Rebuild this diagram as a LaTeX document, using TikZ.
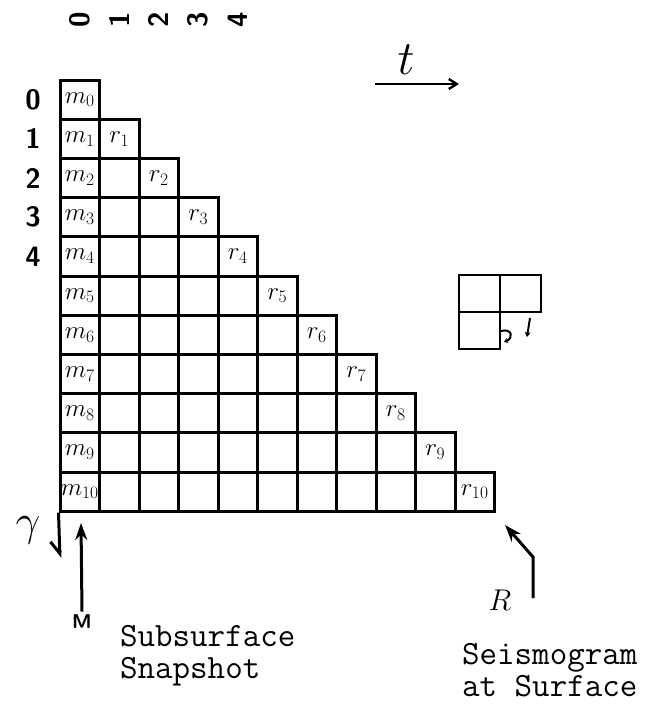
\RequirePackage{fix-cm}
\documentclass[tikz,border=0pt]{standalone}
\usepackage{fontspec}
\usetikzlibrary{arrows.meta,positioning}
\tikzset{
  cellbox/.style={draw, line width=3pt, minimum width=39.5pt, minimum height=39.2pt, inner sep=0pt},
  minicell/.style={draw, line width=2pt, minimum width=41pt, minimum height=37pt, inner sep=0pt},
  hand/.style={font=\fontsize{25}{25}\selectfont},
  idx/.style={font=\sffamily\bfseries\fontsize{28}{28}\selectfont},
  note/.style={font=\ttfamily\fontsize{34}{30}\selectfont, inner sep=0pt, anchor=base west},
  bigarrow/.style={line width=3pt, -{Stealth[length=17pt,width=12pt]}},
}
\begin{document}
\begin{tikzpicture}[x=1pt,y=-1pt]
\useasboundingbox (0,0) rectangle (653,705);
\foreach \i in {0,...,10}{
  \foreach \j in {0,...,\i}
    \node[cellbox] (c\i-\j) at ({60+39.5*(\j+0.5)},{80+39.2*(\i+0.5)}) {};
  \node[hand] (m\i) at (c\i-0) {$m_{\i}$};
}
\foreach \i in {1,...,10}
  \node[hand] (r\i) at (c\i-\i) {$r_{\i}$};
\foreach \k in {0,...,4}{
  \node[idx] (row\k) at (33,{80+39.2*(\k+0.5)}) {\k};
  \node[idx, rotate=90] (col\k) at ({60+39.5*(\k+0.5)},20) {\k};
}
\node[font=\fontsize{48}{48}\selectfont] (tlab) at (406,60) {$t$};
\coordinate (tstart) at (375,84);
\coordinate (tend) at (459,84);
\draw[line width=2.4pt, -{Straight Barb[length=8pt,width=10pt]}] (tstart) -- (tend);
\coordinate (gend) at (60,558);
\draw[line width=3pt, -{Straight Barb[right,length=12pt,width=18pt]}] (c10-0.south west) -- (gend);
\node[font=\fontsize{44}{44}\selectfont] (glab) at (28,530) {$\gamma$};
\node[font=\sffamily\bfseries\fontsize{20}{20}\selectfont] (mlab) at (82,622) {M};
\coordinate (mtip) at (81,523);
\draw[bigarrow] (mlab.north) -- (mtip);
\node[font=\fontsize{30}{30}\selectfont] (rlab) at (500,600) {$R$};
\coordinate (rtail) at (533,598);
\coordinate (rbend) at (533,557);
\coordinate (rtip) at (505,525);
\draw[bigarrow] (rtail) -- (rbend) -- (rtip);
\node[minicell] (s00) at (479,293) {};
\node[minicell] (s01) at (520,293) {};
\node[minicell] (s10) at (479,330) {};
\coordinate (hooka) at (501,331);
\coordinate (hookb) at (504,342);
\draw[line width=2pt, -{Stealth[length=4pt,width=5pt]}] (hooka) .. controls (512,328) and (514,338) .. (hookb);
\coordinate (dna) at (530,318);
\coordinate (dnb) at (527,337);
\draw[line width=2pt, -{Stealth[length=5pt,width=6pt]}] (dna) -- (dnb);
\node[note] (snap1) at (120,646) {Subsurface};
\node[note] (snap2) at (120,678) {Snapshot};
\node[note] (seis1) at (462,664) {Seismogram};
\node[note] (seis2) at (462,696) {at Surface};
\end{tikzpicture}
\end{document}
